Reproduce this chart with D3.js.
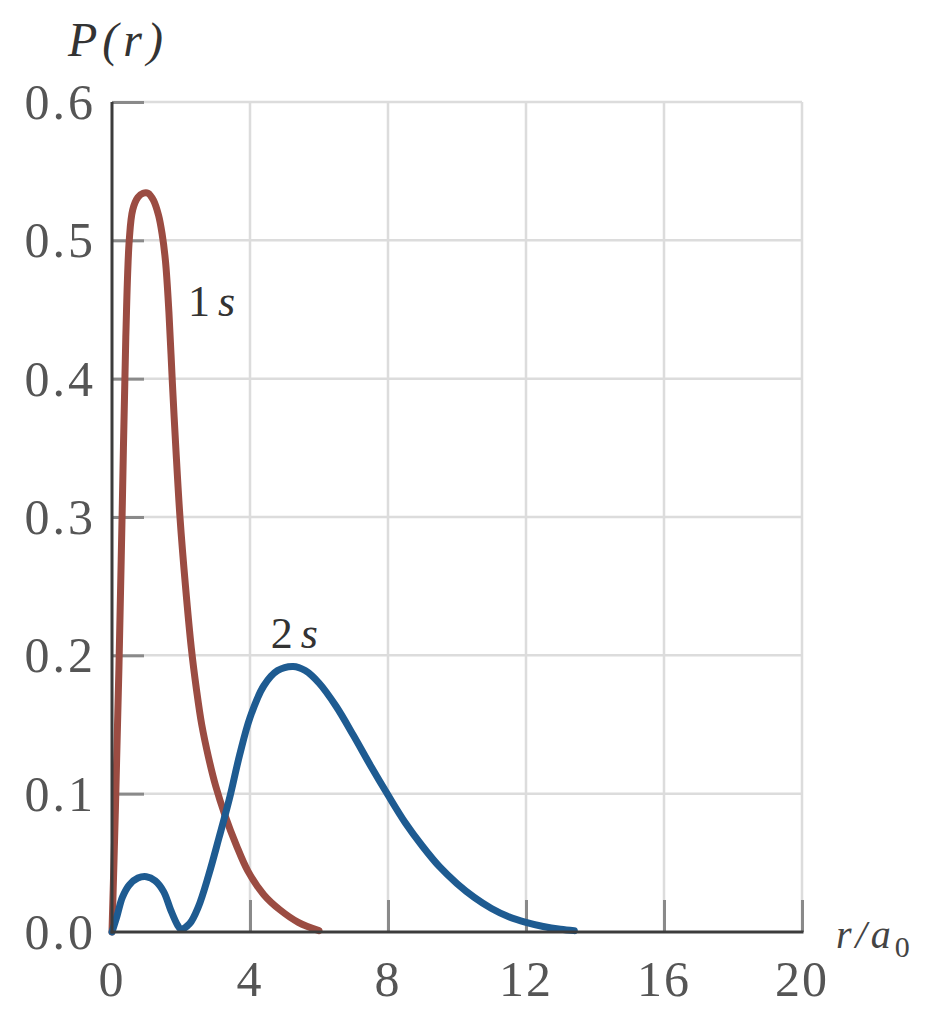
<!DOCTYPE html>
<html>
<head>
<meta charset="utf-8">
<script src="https://cdn.jsdelivr.net/npm/d3@7"></script>
<style>
  body { margin: 0; background: #fff; }
  text { font-family: "Liberation Serif", "DejaVu Serif", serif; }
</style>
</head>
<body>
<div id="host"></div>
<script>
// Layout constants
const width = 929;
const height = 1013;
const margin = {top: 102, right: 127, bottom: 81, left: 112};

// Data: r/a0 and P(r)
const r1s = [0, 0.1, 0.2, 0.3, 0.4, 0.5, 0.6, 0.75, 0.9, 1.05, 1.2, 1.35, 1.45, 1.55, 1.65, 1.75, 1.85, 1.97, 2.13, 2.3, 2.45, 2.6, 2.8, 3.0, 3.28, 3.6, 3.94, 4.4, 4.87, 5.4, 6.0];
const p1s = [0, 0.09, 0.19, 0.31, 0.43, 0.50, 0.522, 0.531, 0.534, 0.534, 0.529, 0.518, 0.505, 0.485, 0.448, 0.397, 0.35, 0.30, 0.25, 0.205, 0.175, 0.150, 0.126, 0.106, 0.084, 0.063, 0.044, 0.027, 0.016, 0.007, 0.001];

const r2s = [0, 0.15, 0.3, 0.5, 0.75, 1.0, 1.25, 1.5, 1.7, 1.9, 2.0, 2.25, 2.5, 2.8, 3.1, 3.4, 3.7, 4.0, 4.4, 4.8, 5.25, 5.6, 6.0, 6.5, 7.0, 7.5, 8.0, 8.5, 9.0, 9.5, 10.0, 10.5, 11.0, 11.5, 12.0, 12.5, 13.0, 13.4];
const p2s = [0, 0.012, 0.025, 0.034, 0.039, 0.040, 0.037, 0.029, 0.016, 0.005, 0.002, 0.006, 0.018, 0.041, 0.068, 0.096, 0.128, 0.155, 0.178, 0.189, 0.192, 0.189, 0.180, 0.163, 0.142, 0.120, 0.099, 0.079, 0.062, 0.047, 0.035, 0.025, 0.017, 0.011, 0.007, 0.004, 0.002, 0.001];

const xTicks = [0, 4, 8, 12, 16, 20];
const yTicks = [0.0, 0.1, 0.2, 0.3, 0.4, 0.5, 0.6];

const series = [
    {name: "1s", r: r1s, p: p1s, color: "#9b4c42", label: [2.2, 0.445]},
    {name: "2s", r: r2s, p: p2s, color: "#1e5b91", label: [4.6, 0.205]}
];

const svg = d3.select("#host").append("svg")
    .attr("width", width)
    .attr("height", height);

const x = d3.scaleLinear().domain([0, 20])
    .range([margin.left, width - margin.right]);
const y = d3.scaleLinear().domain([0, 0.6])
    .range([height - margin.bottom, margin.top]);

// Grid
svg.append("g")
    .selectAll("line")
    .data(xTicks.slice(1))
    .join("line")
    .attr("x1", d => x(d)).attr("x2", d => x(d))
    .attr("y1", y(0)).attr("y2", y(0.6))
    .attr("stroke", "#dcdcdc")
    .attr("stroke-width", 2.5);
svg.append("g")
    .selectAll("line")
    .data(yTicks.slice(1))
    .join("line")
    .attr("x1", x(0)).attr("x2", x(20))
    .attr("y1", d => y(d)).attr("y2", d => y(d))
    .attr("stroke", "#dcdcdc")
    .attr("stroke-width", 2.5);

// Inward ticks
const xAxis = svg.append("g")
    .attr("transform", `translate(0,${y(0)})`)
    .call(d3.axisBottom(x).tickValues(xTicks.slice(1)).tickSize(-32).tickFormat(""));
const yAxis = svg.append("g")
    .attr("transform", `translate(${x(0)},0)`)
    .call(d3.axisLeft(y).tickValues(yTicks.slice(1)).tickSize(-32).tickFormat(""));
for (const ax of [xAxis, yAxis]) {
    ax.select(".domain").remove();
    ax.selectAll(".tick line").attr("stroke", "#8a8a8a").attr("stroke-width", 3);
}

// Curves
const line = d3.line()
    .x(d => x(d[0]))
    .y(d => y(d[1]))
    .curve(d3.curveCatmullRom.alpha(0.5));

for (const s of series) {
    svg.append("path")
        .datum(s.r.map((r, i) => [r, s.p[i]]))
        .attr("fill", "none")
        .attr("stroke", s.color)
        .attr("stroke-width", 7)
        .attr("stroke-linecap", "round")
        .attr("d", line);
}

// Axis lines
svg.append("line")
    .attr("x1", x(0)).attr("x2", x(0))
    .attr("y1", y(0.6)).attr("y2", y(0) + 1.5)
    .attr("stroke", "#3c3c3c").attr("stroke-width", 3);
svg.append("line")
    .attr("x1", x(0) - 1.5).attr("x2", x(20) + 1.5)
    .attr("y1", y(0)).attr("y2", y(0))
    .attr("stroke", "#3c3c3c").attr("stroke-width", 3);

// Tick labels
svg.append("g")
    .selectAll("text")
    .data(yTicks)
    .join("text")
    .attr("x", x(0) - 16)
    .attr("y", d => y(d) + 17)
    .attr("text-anchor", "end")
    .attr("font-size", 50)
    .attr("letter-spacing", 3)
    .attr("fill", "#555")
    .text(d => d.toFixed(1));
svg.append("g")
    .selectAll("text")
    .data(xTicks)
    .join("text")
    .attr("x", d => x(d))
    .attr("y", y(0) + 64)
    .attr("text-anchor", "middle")
    .attr("font-size", 50)
    .attr("letter-spacing", 2)
    .attr("fill", "#555")
    .text(d => d);

// Series labels
for (const s of series) {
    const t = svg.append("text")
        .attr("x", x(s.label[0]))
        .attr("y", y(s.label[1]))
        .attr("font-size", 44)
        .attr("fill", "#333");
    t.append("tspan").text(s.name[0]);
    t.append("tspan").attr("font-style", "italic").attr("dx", 8).text(s.name.slice(1));
}

// Axis titles
svg.append("text")
    .attr("x", 68)
    .attr("y", 56)
    .attr("font-size", 48)
    .attr("font-style", "italic")
    .attr("letter-spacing", 5)
    .attr("fill", "#333")
    .text("P(r)");

const xt = svg.append("text")
    .attr("x", 836)
    .attr("y", 948)
    .attr("font-size", 40)
    .attr("font-style", "italic")
    .attr("letter-spacing", 4)
    .attr("fill", "#444");
xt.append("tspan").text("r/a");
xt.append("tspan").attr("font-style", "normal").attr("font-size", 30).attr("dy", 9).text("0");
</script>
</body>
</html>
